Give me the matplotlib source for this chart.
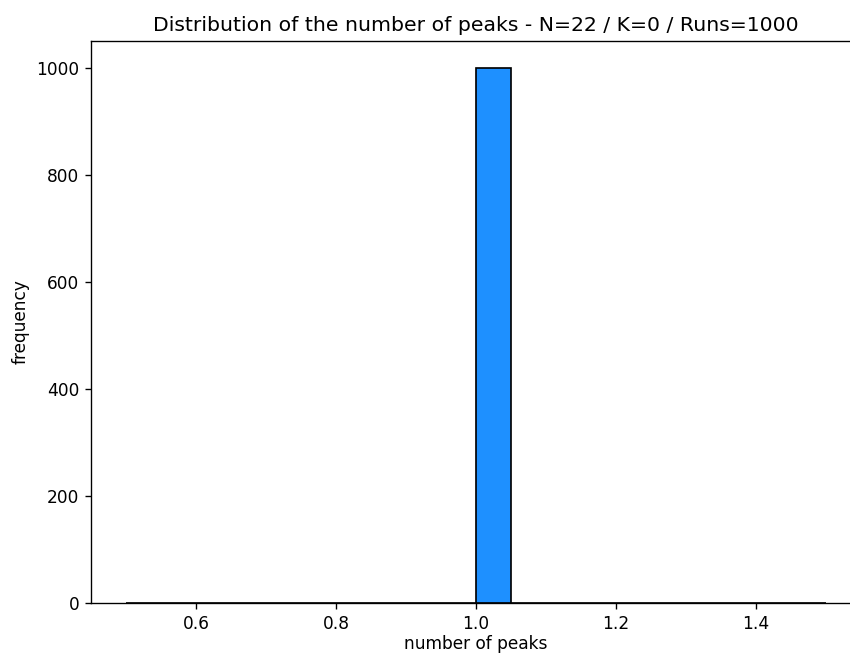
import matplotlib
matplotlib.use("Agg")
import matplotlib.pyplot as plt

# =================
# DANE
# =================
peak_values = [1.0]     # number of peaks observed
peak_counts = [1000]    # how many runs gave that value
n_bins = 20

# =================
# WYKRES
# =================
dpi = 122
fig = plt.figure(figsize=(850 / dpi, 654 / dpi), dpi=dpi)
# the reference is a crop: the axes run a bit past the right edge
ax = fig.add_axes([91 / 850, 51 / 654, 770 / 850, 562 / 654])

ax.hist(peak_values, bins=n_bins, weights=peak_counts,
        color="#1E90FF", edgecolor="black")

ax.set_title("Distribution of the number of peaks - N=22 / K=0 / Runs=1000")
ax.set_xlabel("number of peaks", labelpad=1)
ax.set_ylabel("frequency")

fig.savefig("out.png", dpi=dpi)
